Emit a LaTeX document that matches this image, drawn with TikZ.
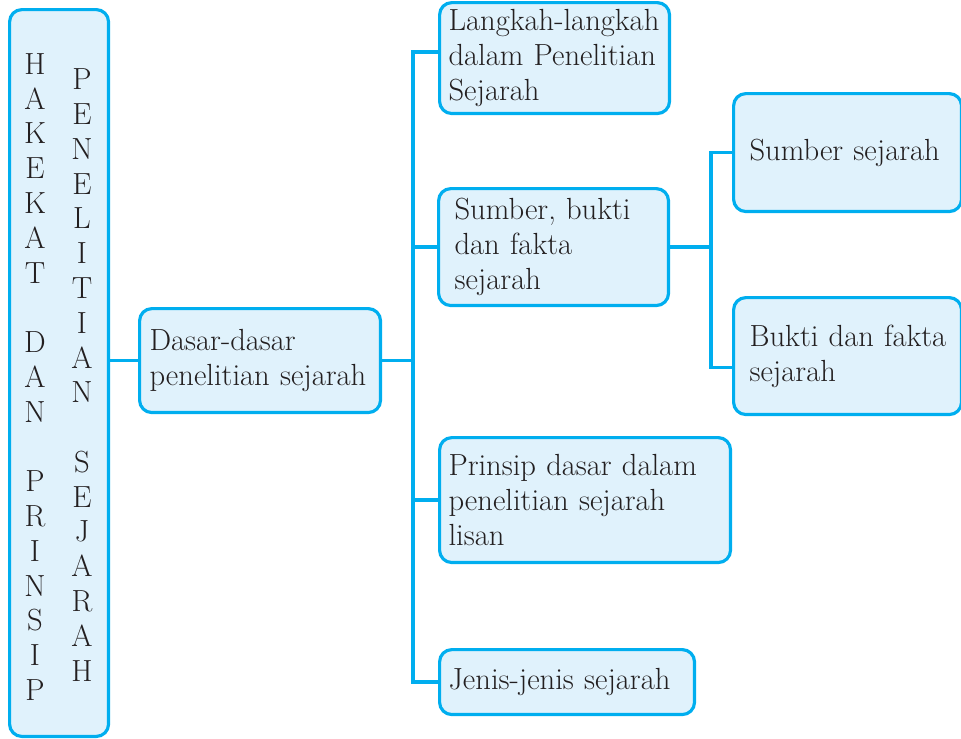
\documentclass[tikz,border=0pt]{standalone}
\usepackage{tikz}
\definecolor{linecyan}{RGB}{0,174,239}
\definecolor{boxfill}{RGB}{224,242,252}
\definecolor{inktext}{RGB}{35,31,32}

\begin{document}
\begin{tikzpicture}[x=0.02cm, y=-0.02cm,
topicnode/.style={rectangle, rounded corners=7pt, draw=linecyan, fill=boxfill, line width=1.8pt, anchor=north west, align=left, inner ysep=0pt, text=inktext, font=\fontsize{17.4}{20}\selectfont},
letternode/.style={align=center, inner sep=0pt, text=inktext, font=\fontsize{17.4}{19.8}\selectfont},
link/.style={draw=linecyan, line width=1.9pt},
]
\useasboundingbox (0,0) rectangle (961,738);

%Nodes
\node[topicnode, inner xsep=0pt, text width=1.98cm, minimum height=14.54cm] (hakekat) at (8,8) {};
\node[letternode] (hakekatA) at (35,377) {H\\A\\K\\E\\K\\A\\T\\~\\D\\A\\N\\~\\P\\R\\I\\N\\S\\I\\P};
\node[letternode] (hakekatB) at (82,375) {P\\E\\N\\E\\L\\I\\T\\I\\A\\N\\~\\S\\E\\J\\A\\R\\A\\H};
\node[topicnode, inner xsep=0.2cm, text width=4.42cm, minimum height=2.08cm] (dasar) at (138,307) {Dasar-dasar\\penelitian sejarah};
\node[topicnode, inner xsep=0.18cm, text width=4.24cm, minimum height=2.22cm] (langkah) at (438,1) {Langkah-langkah\\dalam Penelitian\\Sejarah};
\node[topicnode, inner xsep=0.32cm, text width=3.96cm, minimum height=2.34cm] (sbf) at (437,187) {Sumber, bukti\\dan fakta\\sejarah};
\node[topicnode, inner xsep=0.32cm, text width=3.92cm, minimum height=2.36cm] (sumber) at (732,92) {Sumber sejarah};
\node[topicnode, inner xsep=0.32cm, text width=3.92cm, minimum height=2.34cm] (bukti) at (732,296) {\mbox{Bukti dan fakta}\\sejarah};
\node[topicnode, inner xsep=0.18cm, text width=5.46cm, minimum height=2.5cm] (prinsip) at (438,436) {Prinsip dasar dalam\\penelitian sejarah\\lisan};
\node[topicnode, inner xsep=0.18cm, text width=4.74cm, minimum height=1.3cm] (jenis) at (438,648) {Jenis-jenis sejarah};

%Lines
\coordinate (trunk) at (413,0);
\coordinate (fork) at (711,0);
\coordinate (langkahin) at ([yshift=0.12cm]langkah.west);
\coordinate (buktiin) at ([yshift=-0.23cm]bukti.west);
\draw[link] (hakekat.east |- dasar.west) -- (dasar.west);
\draw[link] (dasar.east) -- (dasar.east -| trunk);
\draw[link] (langkahin) -| (jenis.west -| trunk) -- (jenis.west);
\draw[link] (sbf.west) -- (sbf.west -| trunk);
\draw[link] (prinsip.west) -- (prinsip.west -| trunk);
\draw[link] (sbf.east) -- (sbf.east -| fork);
\draw[link] (sumber.west) -| (buktiin -| fork) -- (buktiin);

\end{tikzpicture}
\end{document}
